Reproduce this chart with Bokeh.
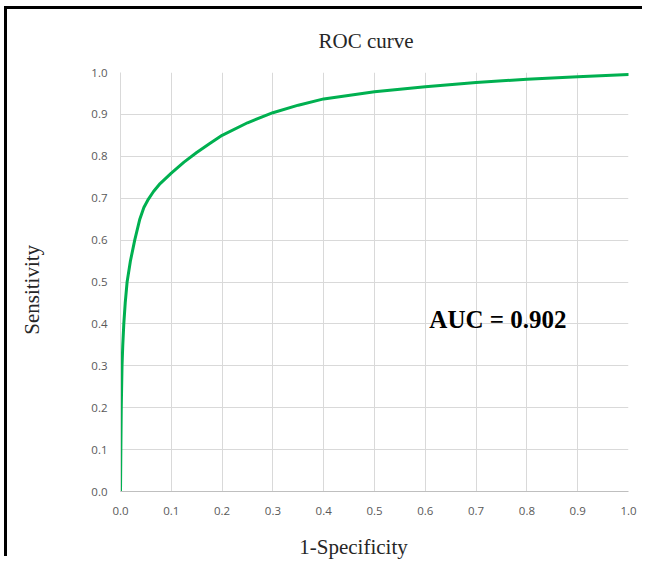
from bokeh.plotting import figure
from bokeh.models import Label, Range1d, FixedTicker
from bokeh.embed import file_html
from bokeh.resources import INLINE

# ROC curve points
fpr = [0.0, 0.0007, 0.0015, 0.003, 0.0045, 0.0065, 0.0093, 0.013, 0.0195, 0.028, 0.038,
       0.046, 0.055, 0.065, 0.078, 0.1, 0.125, 0.15, 0.175, 0.2, 0.25, 0.3, 0.35, 0.4,
       0.5, 0.6, 0.7, 0.8, 0.9, 1.0]
tpr = [0.0, 0.1, 0.2, 0.3, 0.35, 0.4, 0.45, 0.5, 0.55, 0.6, 0.65,
       0.678, 0.698, 0.716, 0.735, 0.76, 0.786, 0.809, 0.83, 0.85, 0.88, 0.904, 0.922, 0.937,
       0.954, 0.966, 0.976, 0.984, 0.99, 0.995]

ticks = [0.0, 0.1, 0.2, 0.3, 0.4, 0.5, 0.6, 0.7, 0.8, 0.9, 1.0]
tick_labels = ["0.0", "0.1", "0.2", "0.3", "0.4", "0.5", "0.6", "0.7", "0.8", "0.9", "1.0"]

title_text = "ROC curve"
x_label = "1-Specificity"
y_label = "Sensitivity"
auc_text = "AUC = 0.902"

serif = "Liberation Serif"
NB = "\u00a0"

p = figure(width=644, height=556, output_backend="svg", toolbar_location=None,
           x_range=Range1d(0, 1), y_range=Range1d(0, 1),
           min_border_left=113, min_border_right=23, min_border_top=63, min_border_bottom=74)
# black frame on the left and top edges of the picture (drawn as a shrunk, offset shadow)
p.styles = {"margin-left": "7px", "margin-top": "9px",
            "box-shadow": "-6px -6px 0px -3px black"}

p.outline_line_color = None
p.background_fill_color = "white"
p.border_fill_color = "white"

p.title.text = title_text
p.title.align = "left"
p.title.offset = 198
p.title.vertical_align = "top"
p.title.standoff = 36
p.title.text_font = serif
p.title.text_font_size = "21px"
p.title.text_font_style = "normal"
p.title.text_color = "#262626"

for ax in (p.xaxis[0], p.yaxis[0]):
    ax.ticker = FixedTicker(ticks=ticks)
    ax.major_label_overrides = {t: l for t, l in zip(ticks, tick_labels)}
    ax.major_tick_line_color = None
    ax.minor_tick_line_color = None
    ax.major_label_text_font = "Open Sans"
    ax.major_label_text_font_size = "11.5px"
    ax.major_label_text_color = "#595959"
    ax.axis_label_text_font = serif
    ax.axis_label_text_font_size = "21px"
    ax.axis_label_text_font_style = "normal"
    ax.axis_label_text_color = "#262626"
p.xaxis[0].major_label_standoff = 9
p.yaxis[0].major_label_standoff = 7
p.xaxis[0].axis_line_color = "#bfbfbf"
p.yaxis[0].axis_line_color = "#d9d9d9"

# trailing no-break spaces shift the centred labels to where the reference has them
p.yaxis[0].axis_label = y_label + NB * 3
p.yaxis[0].axis_label_standoff = 44
p.xaxis[0].axis_label = x_label + NB * 8
p.xaxis[0].axis_label_standoff = 17

p.xgrid.ticker = FixedTicker(ticks=ticks)
p.ygrid.ticker = FixedTicker(ticks=ticks)
p.xgrid.grid_line_color = "#d9d9d9"
p.ygrid.grid_line_color = "#d9d9d9"

p.line(fpr, tpr, line_color="#00b050", line_width=3, line_cap="round", line_join="round")

p.add_layout(Label(x=0.743, y=0.4098, text=auc_text, text_align="center",
                   text_baseline="alphabetic", text_font=serif, text_font_style="bold",
                   text_font_size="25px", text_color="black"))

open("out.html", "w").write(file_html(p, INLINE))
